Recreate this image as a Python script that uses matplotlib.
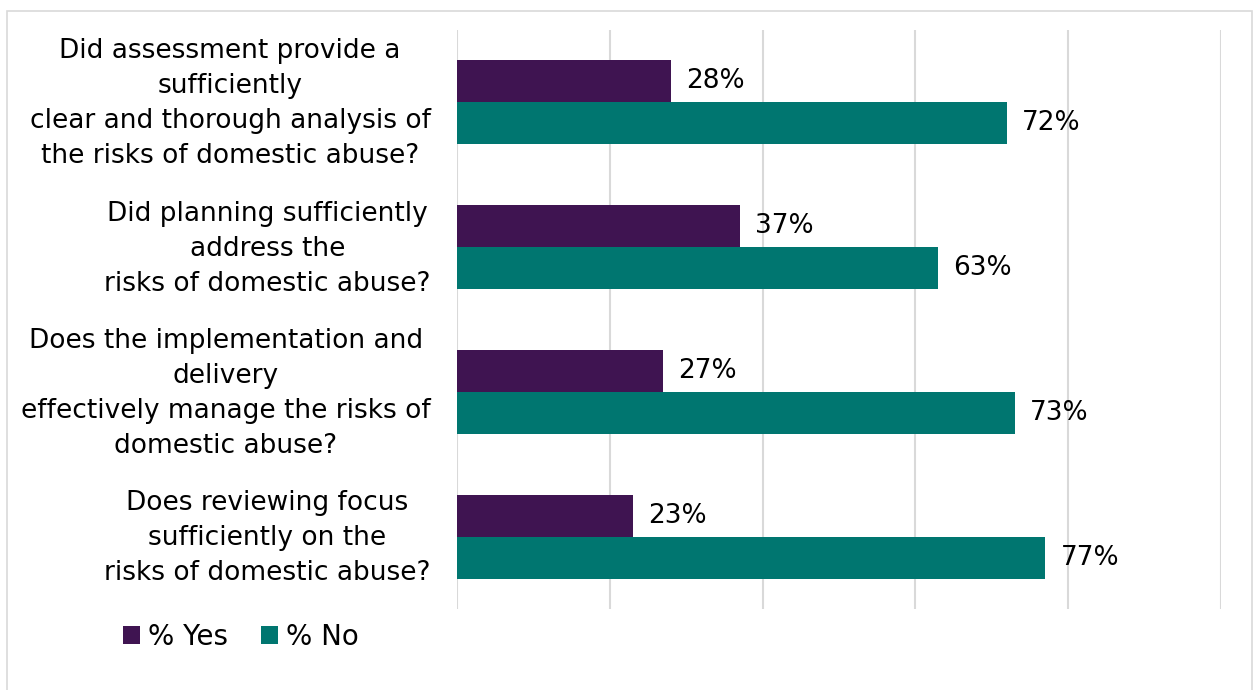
import matplotlib.pyplot as plt
import numpy as np
from matplotlib.patches import Rectangle
from matplotlib.transforms import ScaledTranslation

questions = [
    "Did assessment provide a\nsufficiently\nclear and thorough analysis of\nthe risks of domestic abuse?",
    "Did planning sufficiently\naddress the\nrisks of domestic abuse?",
    "Does the implementation and\ndelivery\neffectively manage the risks of\ndomestic abuse?",
    "Does reviewing focus\nsufficiently on the\nrisks of domestic abuse?",
]
pct_yes = [28, 37, 27, 23]
pct_no = [72, 63, 73, 77]

YES_COLOR = "#3F1451"
NO_COLOR = "#007670"

plt.rcParams["font.family"] = ["DejaVu Sans"]

fig = plt.figure(figsize=(12.54, 6.9), dpi=100)
ax = fig.add_axes([457 / 1254, 1 - 609 / 690, (1221 - 457) / 1254, (609 - 30) / 690])

y = np.arange(len(questions))
h = 0.29
b_yes = ax.barh(y - h / 2, pct_yes, height=h, color=YES_COLOR, label="% Yes", zorder=3)
b_no = ax.barh(y + h / 2, pct_no, height=h, color=NO_COLOR, label="% No", zorder=3)

for bars, vals in ((b_yes, pct_yes), (b_no, pct_no)):
    for bar, v in zip(bars, vals):
        ax.text(bar.get_width() + 2.0, bar.get_y() + bar.get_height() / 2, f"{v}%",
                ha="left", va="center", fontsize=19, color="black", zorder=4)

ax.set_xlim(0, 100)
ax.set_ylim(len(questions) - 0.5, -0.5)
ax.set_xticks(np.arange(0, 101, 20))
ax.tick_params(axis="x", length=0, labelbottom=False)
ax.grid(axis="x", color="#D9D9D9", linewidth=1.5, zorder=0)
ax.set_yticks(y)
ax.set_yticklabels(questions, fontsize=19, multialignment="center", linespacing=1.45)
ax.tick_params(axis="y", length=0, pad=19)
# nudge the question labels up a little so they sit centred on the bar pairs
for lbl in ax.get_yticklabels():
    lbl.set_transform(lbl.get_transform() + ScaledTranslation(0, 0.06, fig.dpi_scale_trans))
for s in ax.spines.values():
    s.set_visible(False)

fig.legend(handles=[b_yes, b_no], loc="center left", bbox_to_anchor=(98 / 1254, 1 - 637 / 690),
           ncol=2, frameon=False, fontsize=20, handlelength=0.6, handleheight=0.6,
           handletextpad=0.3, columnspacing=1.2)

fig.patches.append(Rectangle((7 / 1254, -0.02), (1252 - 7) / 1254, 1.02 - 11 / 690,
                             transform=fig.transFigure, fill=False,
                             edgecolor="#D9D9D9", linewidth=1.2))

fig.savefig("out.png", dpi=100)
